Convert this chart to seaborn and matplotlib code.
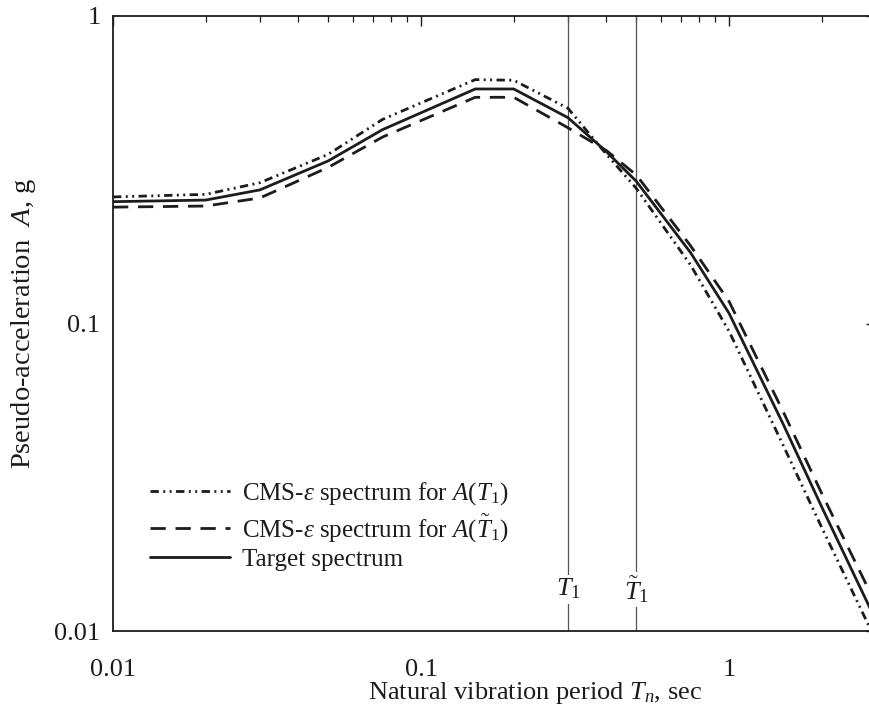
import numpy as np
import pandas as pd
import matplotlib
matplotlib.use("Agg")
import matplotlib.pyplot as plt
import matplotlib.transforms as mtransforms
import seaborn as sns

# ---- data ----
periods = [0.01, 0.02, 0.03, 0.05, 0.075, 0.15, 0.2, 0.3, 0.4, 0.5, 0.75, 1.0, 1.5, 2.0, 3.0]
cms_T1 = [0.258, 0.263, 0.287, 0.355, 0.461, 0.621, 0.618, 0.501, 0.355, 0.275, 0.155, 0.0944, 0.0401, 0.0217, 0.0093]
cms_T1t = [0.239, 0.241, 0.256, 0.322, 0.404, 0.544, 0.544, 0.433, 0.365, 0.304, 0.179, 0.118, 0.0516, 0.028, 0.0122]
target = [0.249, 0.252, 0.272, 0.338, 0.427, 0.579, 0.579, 0.467, 0.362, 0.290, 0.170, 0.108, 0.047, 0.0253, 0.0108]

series_labels = [r"CMS-$\varepsilon$ spectrum for $A(T_1)$",
                 r"CMS-$\varepsilon$ spectrum for $A(\tilde{T}_1)$",
                 "Target spectrum"]
period_marks = [0.3, 0.5]
period_mark_labels = [r"$T_1$", r"$\tilde{T}_1$"]
xtick_vals = [0.01, 0.1, 1]
xtick_labels = ["0.01", "0.1", "1"]
ytick_vals = [0.01, 0.1, 1]
ytick_labels = ["0.01", "0.1", "1"]

df = pd.concat([
    pd.DataFrame({"T": periods, "A": vals, "series": lab})
    for vals, lab in zip([cms_T1, cms_T1t, target], series_labels)
], ignore_index=True)

sns.set_theme(style="white")
plt.rcParams.update({
    "font.family": ["Liberation Serif", "DejaVu Serif"],
    "mathtext.fontset": "custom",
    "mathtext.rm": "Liberation Serif",
    "mathtext.it": "Liberation Serif:italic",
    "mathtext.bf": "Liberation Serif:bold",
    "font.size": 19,
})

ink = "#1c1c1c"
fig = plt.figure(figsize=(8.7, 7.19), dpi=100)
ax = fig.add_axes([113 / 870, 1 - 631 / 719, (876 - 113) / 870, (631 - 16) / 719])

for T, lab in zip(period_marks, period_mark_labels):
    ax.axvline(T, color="#555555", lw=0.9, zorder=1)

sns.lineplot(
    data=df, x="T", y="A", style="series", style_order=series_labels,
    dashes={series_labels[0]: (3.0, 1.6, 0.7, 1.6, 0.7, 1.6),
            series_labels[1]: (5.5, 3.5),
            series_labels[2]: ""},
    color=ink, linewidth=2.0, sort=False, estimator=None, ax=ax, zorder=3,
)

ax.set_xscale("log")
ax.set_yscale("log")
ax.set_xlim(0.01, 3.0)
ax.set_ylim(0.01, 1.0)
ax.set_xticks(xtick_vals)
ax.set_xticklabels(xtick_labels)
ax.set_yticks(ytick_vals)
ax.set_yticklabels(ytick_labels)
ax.xaxis.set_minor_formatter(matplotlib.ticker.NullFormatter())
ax.yaxis.set_minor_formatter(matplotlib.ticker.NullFormatter())
ax.tick_params(which="both", direction="in", top=True, right=True, colors=ink, labelcolor=ink)
ax.tick_params(which="major", length=7, width=1.0, labelsize=19)
ax.tick_params(which="minor", length=4, width=0.9)
ax.tick_params(axis="x", which="major", pad=20)
ax.tick_params(axis="y", which="major", pad=9)
for s in ax.spines.values():
    s.set_color(ink)
    s.set_linewidth(1.3)

trans = mtransforms.blended_transform_factory(ax.transData, ax.transAxes)
for T, lab in zip(period_marks, period_mark_labels):
    ax.text(T, 0.068, lab, transform=trans, ha="center", va="center", fontsize=19,
            color=ink, zorder=2, bbox=dict(facecolor="white", edgecolor="none", pad=1.5))

ax.set_xlabel(r"Natural vibration period $T_n$, sec", fontsize=19, color=ink)
ax.xaxis.set_label_coords(0.553, -0.08)
ax.set_ylabel(r"Pseudo-acceleration  $A$, g", fontsize=20.5, color=ink, labelpad=12)

handles, labels = ax.get_legend_handles_labels()
hmap = dict(zip(labels, handles))
leg = ax.legend([hmap[l] for l in series_labels], series_labels, loc="lower left",
                bbox_to_anchor=(0.035, 0.081), frameon=False, fontsize=18,
                handlelength=3.2, handletextpad=0.5, labelspacing=0.2, borderaxespad=0)
for t in leg.get_texts():
    t.set_color(ink)

fig.savefig("out.png", dpi=100, facecolor="white")
